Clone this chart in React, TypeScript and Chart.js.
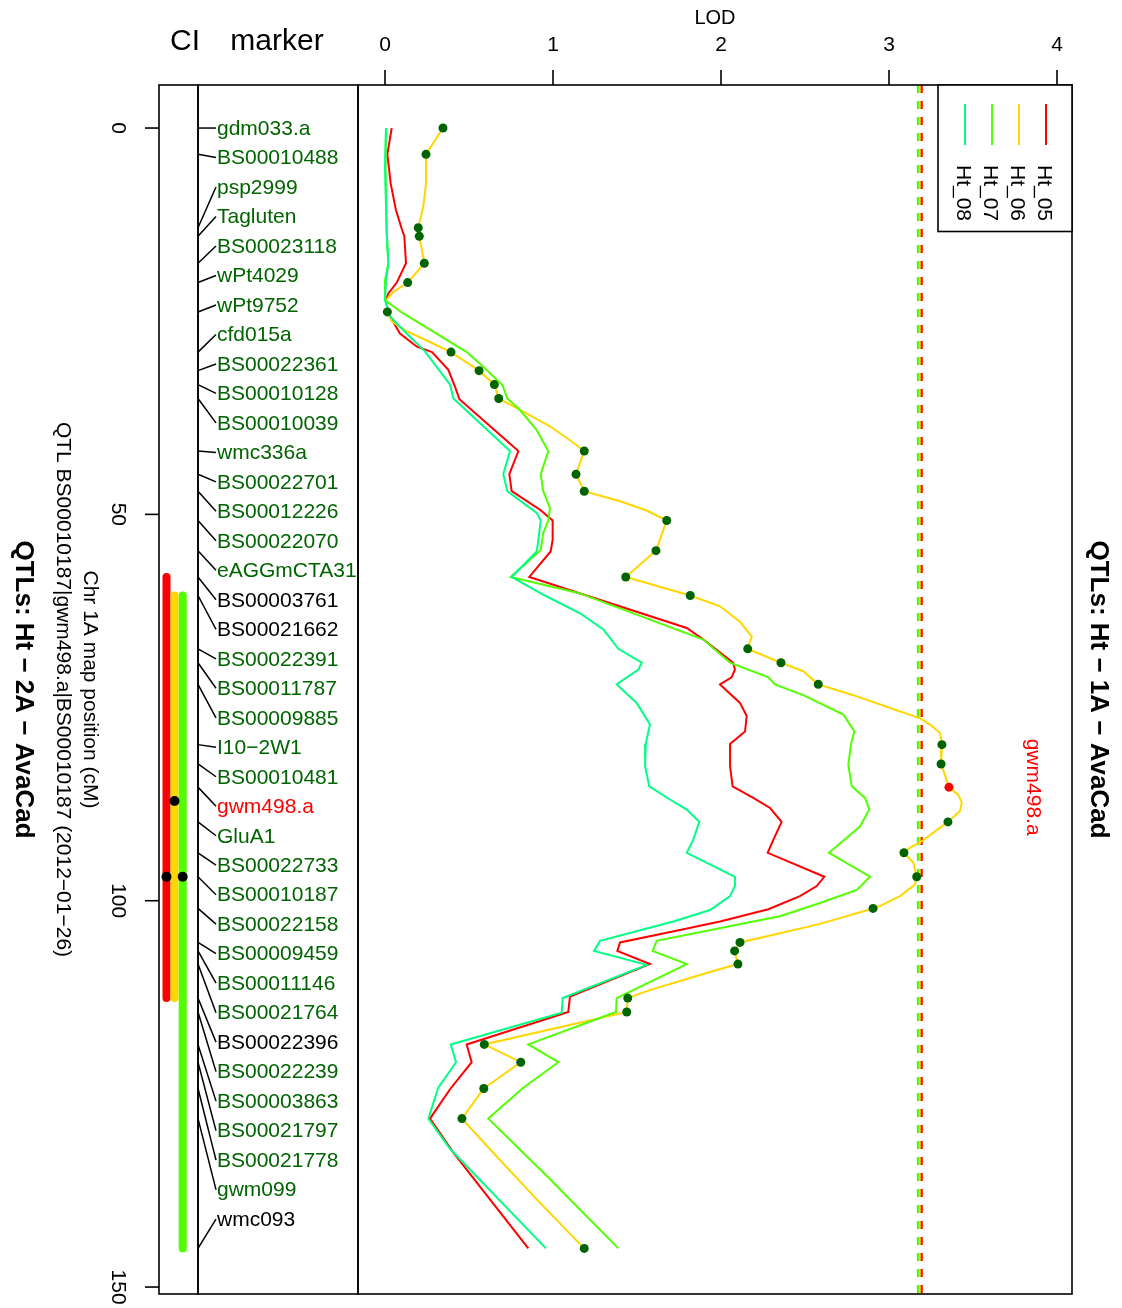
import React, { useEffect, useRef } from "react";
import { Chart, registerables } from "chart.js";

Chart.register(...registerables);

const FONT = '"Liberation Sans", Arial, Helvetica, sans-serif';

// ---------- data ----------
const seriesNames = ["Ht_05", "Ht_06", "Ht_07", "Ht_08"];
const seriesColors = ["#FF0000", "#FFD600", "#52FF00", "#00FF85"];
const lodTicks = [0, 1, 2, 3, 4];
const posTicks = [0, 50, 100, 150];

const markerNames = [
  "gdm033.a", "BS00010488", "psp2999", "Tagluten", "BS00023118", "wPt4029", "wPt9752", "cfd015a",
  "BS00022361", "BS00010128", "BS00010039", "wmc336a", "BS00022701", "BS00012226", "BS00022070",
  "eAGGmCTA31", "BS00003761", "BS00021662", "BS00022391", "BS00011787", "BS00009885", "I10\u22122W1",
  "BS00010481", "gwm498.a", "GluA1", "BS00022733", "BS00010187", "BS00022158", "BS00009459",
  "BS00011146", "BS00021764", "BS00022396", "BS00022239", "BS00003863", "BS00021797", "BS00021778",
  "gwm099", "wmc093",
];
const markerPos = [
  0, 3.4, 12.9, 14.0, 17.5, 20.0, 23.8, 29.0, 31.4, 33.2, 35.0, 41.8, 44.8, 47.0, 50.8, 54.7, 58.1, 60.5,
  67.4, 69.2, 72.0, 79.8, 82.3, 85.3, 89.8, 93.8, 96.9, 101.0, 105.4, 106.5, 108.2, 112.6, 114.4, 118.6,
  120.9, 124.3, 128.2, 145.0,
];
const markerLod06 = [
  0.345, 0.244, 0.198, 0.204, 0.234, 0.135, 0.014, 0.393, 0.56, 0.651, 0.677, 1.186, 1.137, 1.186, 1.677,
  1.613, 1.433, 1.817, 2.159, 2.357, 2.579, 3.315, 3.31, 3.357, 3.351, 3.089, 3.165, 2.905, 2.113, 2.081,
  2.101, 1.445, 1.439, 0.591, 0.808, 0.588, 0.458, 1.186,
];
// g = green, k = black, r = red
const markerLabelKind = [
  "g", "g", "g", "g", "g", "g", "g", "g", "g", "g", "g", "g", "g", "g", "g", "g", "k", "k", "g", "g", "g",
  "g", "g", "r", "g", "g", "g", "g", "g", "g", "g", "k", "g", "g", "g", "g", "g", "k",
];
const highlightMarker = "gwm498.a";
const lastLabelPos = 141.2;

const ht05Pos = [
  0, 3.4, 7.2, 10.6, 13.0, 14.0, 17.5, 20.0, 21.4, 22.3, 24.0, 26.6, 28.3, 29.0, 31.3, 33.5, 35.1, 41.8, 44.8,
  47.0, 49.4, 50.8, 53.3, 54.8, 58.1, 64.7, 66.2, 69.2, 70.1, 71.1, 72.0, 74.4, 76.1, 78.1, 79.7, 82.6, 85.2,
  86.7, 88.0, 89.8, 92.1, 93.8, 96.9, 98.1, 99.4, 101.1, 102.7, 103.8, 105.4, 106.5, 108.2, 112.4, 114.4,
  118.6, 120.9, 124.4, 128.2, 132.6, 145.0,
];
const ht05Lod = [
  0.04, 0.014, 0.034, 0.065, 0.099, 0.115, 0.125, 0.07, 0.02, 0.006, 0.02, 0.089, 0.19, 0.28, 0.377, 0.417,
  0.443, 0.794, 0.74, 0.754, 0.923, 0.998, 0.998, 0.986, 0.859, 1.796, 1.895, 2.073, 2.083, 2.063, 1.994,
  2.113, 2.153, 2.143, 2.054, 2.054, 2.069, 2.192, 2.292, 2.361, 2.312, 2.278, 2.615, 2.57, 2.47, 2.282,
  1.994, 1.756, 1.399, 1.383, 1.577, 1.101, 1.091, 0.486, 0.516, 0.387, 0.268, 0.407, 0.853,
];

const ht06Pos = [
  0, 3.4, 7.2, 10.2, 12.9, 14.0, 17.5, 20.0, 21.2, 22.2, 23.8, 25.0, 26.3, 27.5, 29.0, 31.4, 33.2, 35.0,
  36.7, 38.6, 40.4, 41.8, 44.8, 47.0, 48.3, 49.5, 50.8, 54.7, 58.1, 60.5, 61.9, 63.9, 65.8, 67.4, 69.2,
  70.3, 72.0, 73.4, 74.9, 76.4, 77.2, 78.3, 79.8, 82.3, 85.3, 86.3, 87.3, 88.4, 89.8, 92.3, 93.3, 93.8,
  95.1, 96.9, 97.9, 99.4, 100.7, 101.0, 103.0, 104.2, 105.4, 106.5, 108.2, 109.1, 110.4, 111.7, 112.6,
  114.4, 118.6, 120.9, 124.3, 128.2, 133.1, 139.1, 145.0,
];
const ht06Lod = [
  0.345, 0.244, 0.244, 0.228, 0.198, 0.204, 0.234, 0.135, 0.05, 0.01, 0.014, 0.04, 0.129, 0.248, 0.393,
  0.56, 0.651, 0.677, 0.823, 0.982, 1.101, 1.186, 1.137, 1.186, 1.399, 1.558, 1.677, 1.613, 1.433, 1.817,
  1.994, 2.113, 2.183, 2.159, 2.357, 2.49, 2.579, 2.788, 2.986, 3.185, 3.244, 3.304, 3.315, 3.31, 3.357,
  3.413, 3.433, 3.423, 3.351, 3.195, 3.115, 3.089, 3.145, 3.165, 3.155, 3.065, 2.946, 2.905, 2.589, 2.351,
  2.113, 2.081, 2.101, 1.954, 1.756, 1.558, 1.445, 1.439, 0.591, 0.808, 0.588, 0.458, 0.665, 0.923, 1.186,
];

const ht07Pos = [
  0, 5, 13.6, 17.5, 19.7, 22.3, 24.0, 26.1, 29.0, 30.9, 33.3, 35.0, 36.5, 39.1, 41.8, 44.8, 47.0, 49.2,
  50.8, 52.4, 54.6, 58.1, 60.2, 66.2, 69.2, 71.1, 72.0, 73.4, 75.9, 78.1, 79.7, 82.4, 85.2, 86.7, 88.2,
  90.4, 93.8, 96.9, 98.6, 100.3, 102.0, 102.7, 105.2, 106.5, 108.2, 112.6, 114.4, 118.6, 120.9, 124.2,
  128.2, 135.6, 145.0,
];
const ht07Lod = [
  0.006, 0.003, 0.01, 0.02, 0.0, 0.0, 0.109, 0.268, 0.486, 0.585, 0.7, 0.728, 0.804, 0.903, 0.972, 0.927,
  0.942, 0.982, 0.972, 0.942, 0.927, 0.748, 1.157, 1.895, 2.054, 2.282, 2.321, 2.49, 2.728, 2.794, 2.774,
  2.758, 2.778, 2.857, 2.883, 2.827, 2.643, 2.887, 2.808, 2.589, 2.351, 2.192, 1.617, 1.593, 1.796, 1.379,
  1.375, 0.853, 1.032, 0.823, 0.615, 0.962, 1.389,
];

const ht08Pos = [
  0, 5, 13.6, 17.5, 19.7, 22.3, 24.4, 26.6, 28.9, 33.2, 35.0, 41.8, 44.8, 47.0, 49.8, 50.8, 53.3, 54.8,
  58.1, 60.5, 62.8, 64.9, 67.4, 69.2, 70.1, 72.0, 74.4, 77.2, 79.7, 82.6, 85.2, 86.9, 88.2, 89.8, 92.1,
  93.8, 96.9, 98.1, 99.4, 101.2, 102.7, 105.2, 106.5, 108.3, 112.6, 114.5, 118.6, 120.9, 124.2, 128.2,
  132.1, 145.0,
];
const ht08Lod = [
  0.006, 0, 0.01, 0.02, 0.006, 0, 0.03, 0.129, 0.238, 0.387, 0.407, 0.744, 0.704, 0.728, 0.903, 0.927,
  0.913, 0.903, 0.754, 0.952, 1.161, 1.3, 1.389, 1.528, 1.508, 1.379, 1.498, 1.577, 1.552, 1.548, 1.573,
  1.696, 1.796, 1.871, 1.835, 1.796, 2.083, 2.083, 2.054, 1.935, 1.716, 1.28, 1.244, 1.558, 1.058, 1.052,
  0.391, 0.423, 0.317, 0.258, 0.387, 0.958,
];

// LOD thresholds per series (Ht_05, Ht_06, Ht_07, Ht_08)
const thresholds = [3.195, 3.184, 3.178, 3.172];

// confidence intervals (Ht_05, Ht_06, Ht_07)
const ciLow = [58.1, 60.5, 60.5];
const ciHigh = [112.6, 112.6, 145.0];
const ciPeak = [96.9, 87.1, 96.9];

const posMin = -5.57;
const posMax = 150.9;
const lodMin = -0.1607;
const lodMax = 4.0893;

// ---------- drawing helpers ----------
function rotText(ctx: CanvasRenderingContext2D, text: string, x: number, y: number, font: string, color: string) {
  ctx.save();
  ctx.translate(x, y);
  ctx.rotate(Math.PI / 2);
  ctx.font = font;
  ctx.fillStyle = color;
  ctx.textAlign = "center";
  ctx.textBaseline = "middle";
  ctx.fillText(text, 0, 0);
  ctx.restore();
}

const CI_LEFT = 159;
const CI_RIGHT = 198;
const CI_X = [166.5, 174.5, 182.7];

const panelPlugin = {
  id: "qtlPanels",
  afterDatasetsDraw(chart: any) {
    const { ctx, chartArea: ca, scales } = chart;
    const xs = scales.x;
    const ys = scales.y;
    ctx.save();
    ctx.strokeStyle = "#000";
    ctx.fillStyle = "#000";
    ctx.lineWidth = 1.6;

    // plot box
    ctx.strokeRect(ca.left, ca.top, ca.right - ca.left, ca.bottom - ca.top);

    // top LOD axis
    ctx.font = `21px ${FONT}`;
    ctx.textAlign = "center";
    ctx.textBaseline = "middle";
    lodTicks.forEach((v) => {
      const x = xs.getPixelForValue(v);
      ctx.beginPath();
      ctx.moveTo(x, ca.top - 15);
      ctx.lineTo(x, ca.top);
      ctx.stroke();
      ctx.fillText(String(v), x, 45);
    });
    ctx.font = `20px ${FONT}`;
    ctx.fillText("LOD", (ca.left + ca.right) / 2, 18);

    // left panels
    ctx.strokeRect(CI_LEFT, ca.top, CI_RIGHT - CI_LEFT, ca.bottom - ca.top);
    ctx.strokeRect(CI_RIGHT, ca.top, ca.left - CI_RIGHT, ca.bottom - ca.top);

    // left position axis
    posTicks.forEach((v) => {
      const y = ys.getPixelForValue(v);
      ctx.beginPath();
      ctx.moveTo(CI_LEFT - 14, y);
      ctx.lineTo(CI_LEFT, y);
      ctx.stroke();
      rotText(ctx, String(v), 118, y, `21px ${FONT}`, "#000");
    });

    // headers
    ctx.font = `30px ${FONT}`;
    ctx.fillStyle = "#000";
    ctx.textAlign = "center";
    ctx.textBaseline = "middle";
    ctx.fillText("CI", 185, 42);
    ctx.fillText("marker", 277, 42);

    // CI bars
    ctx.lineCap = "round";
    ciLow.forEach((lo, i) => {
      ctx.strokeStyle = seriesColors[i];
      ctx.lineWidth = 8;
      ctx.beginPath();
      ctx.moveTo(CI_X[i], ys.getPixelForValue(lo));
      ctx.lineTo(CI_X[i], ys.getPixelForValue(ciHigh[i]));
      ctx.stroke();
    });
    ctx.lineCap = "butt";
    ctx.fillStyle = "#000";
    ciPeak.forEach((p, i) => {
      ctx.beginPath();
      ctx.arc(CI_X[i], ys.getPixelForValue(p), 5, 0, Math.PI * 2);
      ctx.fill();
    });

    // marker connecting lines & labels
    const n = markerNames.length;
    const step = lastLabelPos / (n - 1);
    ctx.strokeStyle = "#000";
    ctx.lineWidth = 1.5;
    ctx.font = `21px ${FONT}`;
    ctx.textAlign = "left";
    ctx.textBaseline = "middle";
    markerNames.forEach((name, i) => {
      const yPos = ys.getPixelForValue(markerPos[i]);
      const yLab = ys.getPixelForValue(markerPos[0] + i * step);
      ctx.beginPath();
      ctx.moveTo(CI_RIGHT, yPos);
      ctx.lineTo(216, yLab);
      ctx.stroke();
      const k = markerLabelKind[i];
      ctx.fillStyle = k === "r" ? "#FF0000" : k === "k" ? "#000000" : "#006400";
      ctx.fillText(name, 217, yLab + 1);
    });

    // legend
    const lgTop = ca.top;
    const lgBottom = 231.5;
    const lgLeft = 938;
    ctx.fillStyle = "#fff";
    ctx.fillRect(lgLeft, lgTop, ca.right - lgLeft, lgBottom - lgTop);
    ctx.strokeStyle = "#000";
    ctx.lineWidth = 1.6;
    ctx.strokeRect(lgLeft, lgTop, ca.right - lgLeft, lgBottom - lgTop);
    const lgX = [1046, 1019, 992, 965];
    seriesNames.forEach((nm, i) => {
      ctx.strokeStyle = seriesColors[i];
      ctx.lineWidth = 2;
      ctx.beginPath();
      ctx.moveTo(lgX[i], 104);
      ctx.lineTo(lgX[i], 145);
      ctx.stroke();
      rotText(ctx, nm, lgX[i] - 2, 193, `21px ${FONT}`, "#000");
    });

    // highlighted marker label on right
    const hi = markerNames.indexOf(highlightMarker);
    rotText(ctx, highlightMarker, 1033, ys.getPixelForValue(markerPos[hi]), `21px ${FONT}`, "#FF0000");

    // titles
    const midY = (ca.top + ca.bottom) / 2;
    rotText(ctx, "QTLs: Ht \u2212 1A \u2212 AvaCad", 1098, midY, `bold 26px ${FONT}`, "#000");
    rotText(ctx, "QTLs: Ht \u2212 2A \u2212 AvaCad", 23, midY, `bold 26px ${FONT}`, "#000");
    rotText(ctx, "QTL BS00010187|gwm498.a|BS00010187 (2012\u221201\u221226)", 63, midY, `21px ${FONT}`, "#000");
    rotText(ctx, "Chr 1A map position (cM)", 90, midY, `21px ${FONT}`, "#000");

    ctx.restore();
  },
};

function pts(pos: number[], lod: number[]) {
  return pos.map((p, i) => ({ x: lod[i], y: p }));
}

export default function App() {
  const ref = useRef<HTMLCanvasElement | null>(null);

  useEffect(() => {
    if (!ref.current) return;
    const curve = (pos: number[], lod: number[], color: string) => ({
      data: pts(pos, lod),
      showLine: true,
      borderColor: color,
      backgroundColor: color,
      borderWidth: 2,
      pointRadius: 0,
      tension: 0,
    });
    const thr = (v: number, color: string) => ({
      data: [
        { x: v, y: posMin },
        { x: v, y: posMax },
      ],
      showLine: true,
      borderColor: color,
      borderWidth: 2,
      borderDash: [8, 8],
      pointRadius: 0,
    });
    const chart = new Chart(ref.current, {
      type: "scatter",
      data: {
        datasets: [
          {
            data: pts(markerPos, markerLod06),
            showLine: false,
            pointRadius: 4.5,
            pointBorderWidth: 0,
            pointBackgroundColor: markerNames.map((m) => (m === highlightMarker ? "#FF0000" : "#006400")),
          } as any,
          curve(ht08Pos, ht08Lod, seriesColors[3]),
          curve(ht07Pos, ht07Lod, seriesColors[2]),
          curve(ht06Pos, ht06Lod, seriesColors[1]),
          curve(ht05Pos, ht05Lod, seriesColors[0]),
          thr(thresholds[0], seriesColors[0]),
          thr(thresholds[1], seriesColors[1]),
          thr(thresholds[2], seriesColors[2]),
          thr(thresholds[3], seriesColors[3]),
        ],
      },
      options: {
        animation: false,
        responsive: false,
        events: [],
        layout: { padding: { left: 358, right: 50, top: 85, bottom: 14 } },
        plugins: { legend: { display: false }, tooltip: { enabled: false } },
        scales: {
          x: { type: "linear", min: lodMin, max: lodMax, display: false },
          y: { type: "linear", min: posMin, max: posMax, reverse: true, display: false },
        },
      },
      plugins: [panelPlugin],
    });
    return () => chart.destroy();
  }, []);

  return (
    <div style={{ position: "absolute", left: 0, top: 0, width: 1122, height: 1308, background: "#fff" }}>
      <canvas ref={ref} width={1122} height={1308} style={{ display: "block" }} />
    </div>
  );
}
